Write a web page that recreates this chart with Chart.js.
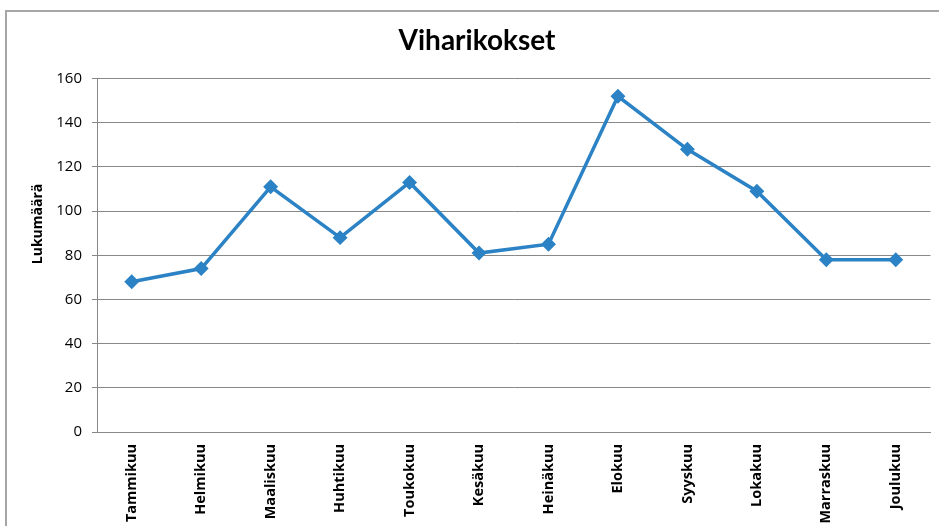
<!DOCTYPE html>
<html lang="fi">
<head>
    <meta charset="utf-8">
    <title>Viharikokset</title>
    <script src="https://cdn.jsdelivr.net/npm/chart.js"></script>
    <style>
        body { margin: 0; background: #fff; }
        #wrap { position: relative; width: 939px; height: 526px; overflow: hidden; }
        #frame { position: absolute; left: 5px; top: 10px; width: 945px; height: 530px; border: 2px solid #a6a6a6; box-sizing: border-box; }
        #chart { position: absolute; left: 0; top: 0; }
    </style>
</head>
<body>
    <div id="wrap">
        <div id="frame"></div>
        <canvas id="chart" width="939" height="526"></canvas>
    </div>
    <script>
        // Kuukaudet ja lukumäärät
        const months = ['Tammikuu', 'Helmikuu', 'Maaliskuu', 'Huhtikuu', 'Toukokuu', 'Kesäkuu',
            'Heinäkuu', 'Elokuu', 'Syyskuu', 'Lokakuu', 'Marraskuu', 'Joulukuu'];
        const counts = [68, 74, 111, 88, 113, 81, 85, 152, 128, 109, 78, 78];
        const yTicks = [0, 20, 40, 60, 80, 100, 120, 140, 160];

        const sans = '"Open Sans", sans-serif';

        // Pystyakselin otsikko piirretään itse, jotta se on samassa kohdassa kuin alkuperäisessä
        const yTitle = {
            id: 'yTitle',
            afterDraw(chart) {
                const ctx = chart.ctx;
                ctx.save();
                ctx.translate(38, 224);
                ctx.rotate(-Math.PI / 2);
                ctx.font = 'bold 14px ' + sans;
                ctx.fillStyle = '#000';
                ctx.textAlign = 'center';
                ctx.textBaseline = 'middle';
                ctx.fillText('Lukumäärä', 0, 0);
                ctx.restore();
            }
        };

        new Chart(document.getElementById('chart'), {
            type: 'line',
            data: {
                labels: months,
                datasets: [{
                    label: 'Viharikokset',
                    data: counts,
                    borderColor: '#2b82c4',
                    backgroundColor: '#2b82c4',
                    borderWidth: 3.5,
                    pointStyle: 'rectRot',
                    pointRadius: 5,
                    tension: 0
                }]
            },
            options: {
                responsive: false,
                animation: false,
                layout: { padding: { top: 0, right: 1, bottom: 0, left: 16 } },
                plugins: {
                    legend: { display: false },
                    tooltip: { enabled: false },
                    title: {
                        display: true,
                        text: 'Viharikokset',
                        color: '#000',
                        font: { family: 'Lato, sans-serif', size: 28, weight: 'bold' },
                        padding: { top: 24, bottom: 21 }
                    }
                },
                scales: {
                    x: {
                        offset: true,
                        grid: { display: false },
                        border: { display: true, color: '#888', width: 1 },
                        ticks: {
                            color: '#000',
                            minRotation: 90,
                            maxRotation: 90,
                            padding: 4,
                            font: { family: sans, size: 14.5, weight: 'bold' }
                        },
                        afterFit: (scale) => { scale.height = 94; }
                    },
                    y: {
                        min: 0,
                        max: 160,
                        afterBuildTicks: (scale) => { scale.ticks = yTicks.map(v => ({ value: v })); },
                        grid: { color: '#888', lineWidth: 1, tickLength: 5 },
                        border: { display: true, color: '#888', width: 1 },
                        ticks: {
                            color: '#000',
                            padding: 10,
                            font: { family: sans, size: 15 }
                        },
                        afterFit: (scale) => { scale.width = 81; }
                    }
                }
            },
            plugins: [yTitle]
        });
    </script>
</body>
</html>
